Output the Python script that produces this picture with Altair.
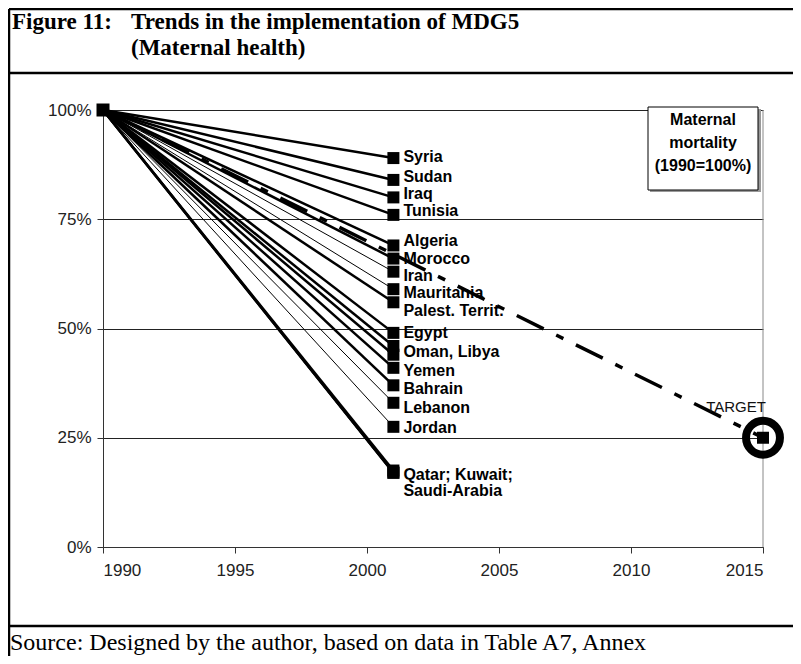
import altair as alt
import pandas as pd

# ---------------- data ----------------
countries = ["Syria", "Sudan", "Iraq", "Tunisia", "Algeria", "Morocco", "Iran",
             "Mauritania", "Palest. Territ.", "Egypt", "Oman", "Libya", "Yemen",
             "Bahrain", "Lebanon", "Jordan", "Qatar", "Kuwait", "Saudi-Arabia"]
mmr_2001 = [89, 84, 80, 76, 69, 66, 63, 59, 56, 49, 46, 44, 41, 37, 33, 27.5, 17.5, 17, 17]
thin_countries = ["Iran", "Mauritania", "Lebanon", "Jordan"]

label_texts = ["Syria", "Sudan", "Iraq", "Tunisia", "Algeria", "Morocco", "Iran",
               "Mauritania", "Palest. Territ.", "Egypt", "Oman, Libya", "Yemen",
               "Bahrain", "Lebanon", "Jordan", "Qatar; Kuwait;", "Saudi-Arabia"]
label_values = [89.2, 84.7, 80.8, 76.9, 70.0, 65.9, 62.0, 58.1, 54.0, 49.0, 44.6,
                40.3, 36.2, 31.8, 27.2, 16.5, 12.8]

start_year = 1990
obs_year = 2001
target_year = 2015
start_value = 100
target_value = 25

x_ticks = [1990, 1995, 2000, 2005, 2010, 2015]
y_ticks = [0, 25, 50, 75, 100]

title_left = "Figure 11:"
title_lines = ["Trends in the implementation of MDG5", "(Maternal health)"]
legend_lines = ["Maternal", "mortality", "(1990=100%)"]
target_text = "TARGET"
source_text = "Source: Designed by the author, based on data in Table A7, Annex"

# ---------------- tables ----------------
rows = []
for c, v in zip(countries, mmr_2001):
    rows.append({"country": c, "year": start_year, "value": start_value})
    rows.append({"country": c, "year": obs_year, "value": v})
lines_df = pd.DataFrame(rows)
thin_df = lines_df[lines_df["country"].isin(thin_countries)]
thick_df = lines_df[~lines_df["country"].isin(thin_countries)]
end_df = pd.DataFrame({"country": countries, "year": obs_year, "value": mmr_2001})
start_df = pd.DataFrame({"year": [start_year], "value": [start_value]})
target_line_df = pd.DataFrame({"year": [start_year, target_year],
                               "value": [start_value, target_value]})
target_df = pd.DataFrame({"year": [target_year], "value": [target_value]})
labels_df = pd.DataFrame({"label": label_texts, "year": obs_year, "value": label_values})
one = pd.DataFrame({"k": [0]})

# ---------------- encodings ----------------
W, H = 660, 437
x_scale = alt.Scale(domain=[x_ticks[0], x_ticks[-1]], nice=False, zero=False)
y_scale = alt.Scale(domain=[y_ticks[0], y_ticks[-1]], nice=False)
X = alt.X("year:Q", scale=x_scale,
          axis=alt.Axis(values=x_ticks, format="d", grid=False, title=None,
                        labelPadding=9, tickSize=6))
Y = alt.Y("value:Q", scale=y_scale,
          axis=alt.Axis(values=y_ticks, labelExpr="datum.value + '%'", grid=True,
                        title=None, labelPadding=6, tickSize=6))

# ---------------- decorations (frame, titles) ----------------
def rule(x1, x2, y1, y2, w=2.5, color="black"):
    return alt.Chart(one).mark_rule(color=color, strokeWidth=w, clip=False).encode(
        x=alt.value(x1), x2=alt.value(x2), y=alt.value(y1), y2=alt.value(y2))

def text(t, x, y, size, font, weight="normal", align="left", baseline="alphabetic", color="black"):
    return alt.Chart(one).mark_text(text=t, fontSize=size, font=font, fontWeight=weight,
                                    align=align, baseline=baseline, color=color,
                                    clip=False).encode(x=alt.value(x), y=alt.value(y))

frame = [
    rule(-94, -94, -101, 560),       # left border
    rule(-94, 700, -101, -101),      # top border
    rule(-94, 700, -37, -37),        # below title
    rule(-94, 700, 516, 516),        # above source
]
titles = [
    text(title_left, -91, -81, 23, "Liberation Serif", "bold"),
    text(title_lines[0], 28, -81, 23, "Liberation Serif", "bold"),
    text(title_lines[1], 28, -55, 23, "Liberation Serif", "bold"),
    text(source_text, -93, 540, 24, "Liberation Serif", "normal"),
]

legend_shadow = alt.Chart(one).mark_rect(fill="#999", clip=False).encode(
    x=alt.value(547), x2=alt.value(658), y=alt.value(-1), y2=alt.value(82))
legend_box = alt.Chart(one).mark_rect(fill="white", stroke="black", strokeWidth=1,
                                      clip=False).encode(
    x=alt.value(545), x2=alt.value(655), y=alt.value(-3), y2=alt.value(80))
legend_texts = [text(t, 600, 10 + 23 * i, 16, "Liberation Sans", "bold",
                     align="center", baseline="middle")
                for i, t in enumerate(legend_lines)]

# ---------------- data layers ----------------
border = alt.Chart(target_df).mark_rule(color="#888", strokeWidth=1).encode(
    x=X, y=alt.datum(y_ticks[0]), y2=alt.datum(y_ticks[-1]))

thin_lines = alt.Chart(thin_df).mark_line(color="black", strokeWidth=1).encode(
    x=X, y=Y, detail="country:N")
thick_lines = alt.Chart(thick_df).mark_line(color="black", strokeWidth=2.5).encode(
    x=X, y=Y, detail="country:N")

end_marks = alt.Chart(end_df).mark_square(color="black", size=144, opacity=1).encode(x=X, y=Y)
start_mark = alt.Chart(start_df).mark_square(color="black", size=169, opacity=1).encode(x=X, y=Y)

labels = alt.Chart(labels_df).mark_text(align="left", baseline="middle", dx=10,
                                        font="Liberation Sans", fontWeight="bold",
                                        fontSize=16, color="black").encode(
    x=X, y=Y, text="label:N")

target_line = alt.Chart(target_line_df).mark_line(
    color="black", strokeWidth=3.5, strokeDash=[30, 14, 8, 14]).encode(x=X, y=Y)

target_circle = alt.Chart(target_df).mark_point(
    shape="circle", filled=False, size=1150, strokeWidth=8, color="black",
    opacity=1).encode(x=X, y=Y)
target_square = alt.Chart(target_df).mark_square(color="black", size=144, opacity=1).encode(x=X, y=Y)
target_label = alt.Chart(target_df).mark_text(
    text=target_text, font="Liberation Sans", fontSize=15, align="center",
    baseline="middle", dx=-27, dy=-31, color="#111").encode(x=X, y=Y)

chart = alt.layer(
    *frame, *titles,
    border, thin_lines, thick_lines, labels, target_line,
    end_marks, start_mark,
    legend_shadow, legend_box, *legend_texts,
    target_label, target_circle, target_square,
).properties(
    width=W, height=H,
    autosize=alt.AutoSizeParams(type="none"),
    padding={"left": 95, "top": 102, "right": 30, "bottom": 109},
).configure_view(stroke=None).configure_axis(
    labelFont="Liberation Sans", labelFontSize=17, labelColor="#222",
    domainColor="#333", tickColor="#333", gridColor="#222", gridWidth=1,
    domainWidth=1,
)

chart.save("out.html", embed_options={"renderer": "svg", "actions": False})
